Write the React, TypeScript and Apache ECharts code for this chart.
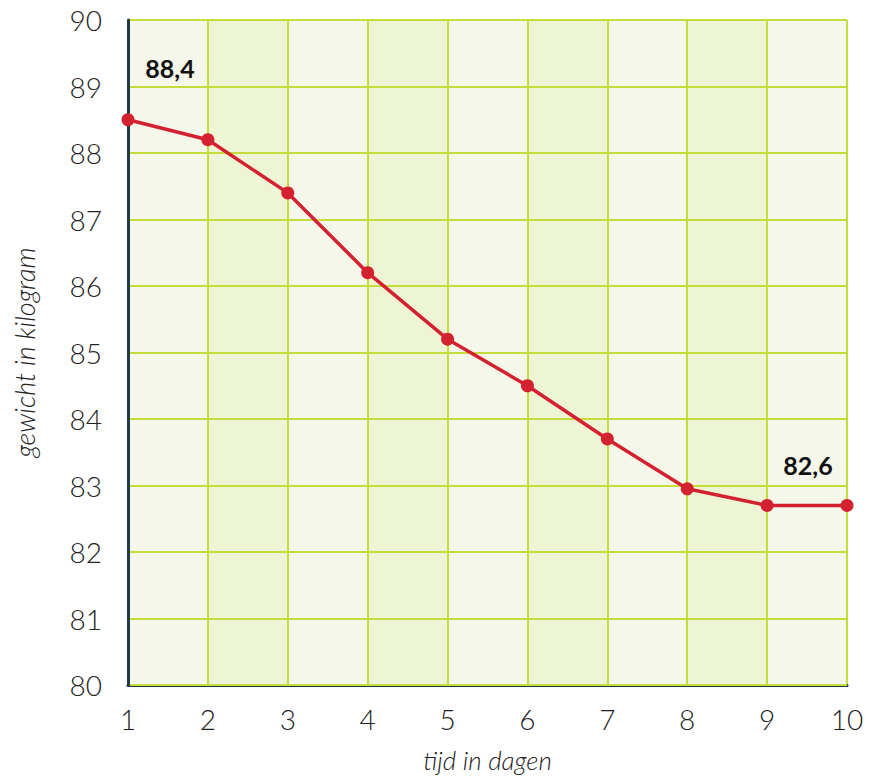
import React, { useEffect, useRef } from "react";
import * as echarts from "echarts";

const days = [1, 2, 3, 4, 5, 6, 7, 8, 9, 10];
const weights = [88.5, 88.2, 87.4, 86.2, 85.2, 84.5, 83.7, 82.95, 82.7, 82.7];
const pointLabels = ["88,4", "", "", "", "", "", "", "", "", "82,6"];
const xTitle = "tijd in dagen";
const yTitle = "gewicht in kilogram";

const FONT = "Lato";

export default function App() {
  const ref = useRef<HTMLDivElement>(null);
  useEffect(() => {
    document.body.style.margin = "0";
    const chart = echarts.init(ref.current!, null, { renderer: "svg" });
    const data = days.map((d, i) => {
      const item: any = { value: [d, weights[i]] };
      if (pointLabels[i]) {
        item.label = {
          show: true,
          formatter: pointLabels[i],
          position: "top",
          offset: i === 0 ? [42, -28] : [-39, -16],
          fontSize: 25,
          fontWeight: "bold",
          color: "#111",
          fontFamily: FONT,
        };
      }
      return item;
    });
    chart.setOption({
      animation: false,
      backgroundColor: "#ffffff",
      grid: {
        left: 128,
        top: 20,
        width: 719,
        height: 665,
        containLabel: false,
        outerBoundsMode: "none",
      },
      xAxis: {
        type: "value",
        min: 1,
        max: 10,
        interval: 1,
        z: 0,
        name: xTitle,
        nameLocation: "middle",
        nameGap: 62,
        nameTextStyle: { fontFamily: FONT, fontStyle: "italic", fontWeight: 300, fontSize: 26, color: "#222" },
        axisLine: { show: true, lineStyle: { color: "#1d3b4a", width: 3 } },
        axisTick: { show: false },
        axisLabel: { fontFamily: FONT, fontWeight: 300, fontSize: 28, color: "#222", margin: 20 },
        splitLine: { show: true, lineStyle: { color: "#c5dc3a", width: 2 } },
        splitArea: { show: true, areaStyle: { color: ["#f4f7e9", "#eef5d5"] } },
      },
      yAxis: {
        type: "value",
        min: 80,
        max: 90,
        interval: 1,
        z: 1,
        name: yTitle,
        nameLocation: "middle",
        nameGap: 90,
        nameRotate: 90,
        nameTextStyle: { fontFamily: FONT, fontStyle: "italic", fontWeight: 300, fontSize: 27, color: "#222" },
        axisLine: { show: true, lineStyle: { color: "#1d3b4a", width: 3 } },
        axisTick: { show: false },
        axisLabel: { fontFamily: FONT, fontWeight: 300, fontSize: 28, color: "#222", margin: 26 },
        splitLine: { show: true, lineStyle: { color: "#c5dc3a", width: 2 } },
      },
      series: [
        {
          type: "line",
          data,
          symbol: "circle",
          symbolSize: 13,
          lineStyle: { color: "#d42130", width: 3.5 },
          itemStyle: { color: "#d42130" },
          z: 5,
        },
      ],
    });
    return () => chart.dispose();
  }, []);
  return (
    <div
      ref={ref}
      style={{ position: "fixed", left: 0, top: 0, width: 869, height: 777 }}
    />
  );
}
